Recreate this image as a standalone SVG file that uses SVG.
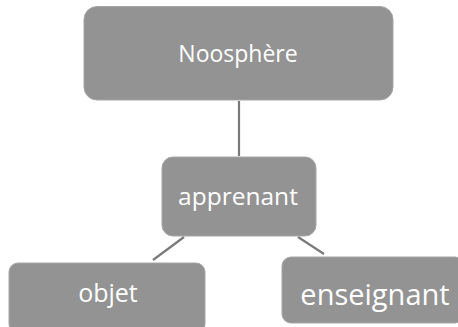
<svg xmlns="http://www.w3.org/2000/svg" width="458" height="327" viewBox="0 0 458 327">
<style>
.box{fill:#939393;stroke:#a6a6a6;stroke-width:1}
.lbl{fill:#ffffff;font-family:"Open Sans","Noto Sans",sans-serif;text-anchor:middle}
.conn{stroke:#7a7a7a;stroke-width:2.2;fill:none}
</style>
<rect width="458" height="327" fill="#ffffff"/>
<g id="connectors">
<line class="conn" x1="239" y1="101" x2="239" y2="156"/>
<line class="conn" x1="184" y1="237" x2="153" y2="260"/>
<line class="conn" x1="298" y1="237" x2="324" y2="254"/>
</g>
<g id="noosphere">
<rect class="box" x="84" y="6.5" width="309" height="93.5" rx="13"/>
<text class="lbl" x="238" y="62" font-size="23">Noosphère</text>
</g>
<g id="apprenant">
<rect class="box" x="162" y="157" width="154" height="79" rx="11"/>
<text class="lbl" x="238" y="205" font-size="24.5">apprenant</text>
</g>
<g id="objet">
<rect class="box" x="9" y="263" width="196" height="70" rx="9"/>
<text class="lbl" x="108" y="302" font-size="25">objet</text>
</g>
<g id="enseignant">
<rect class="box" x="282" y="257" width="182" height="66" rx="9"/>
<text class="lbl" x="375" y="305" font-size="29">enseignant</text>
</g>
</svg>
